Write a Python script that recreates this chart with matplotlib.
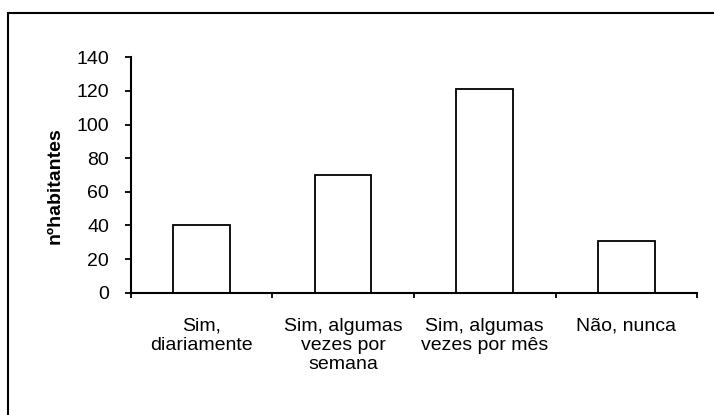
import matplotlib
matplotlib.use('Agg')
import matplotlib.pyplot as plt
import numpy as np
from matplotlib.patches import Rectangle

plt.rcParams['font.family'] = ['Liberation Sans', 'DejaVu Sans']

categorias = ["Sim,\ndiariamente", "Sim, algumas\nvezes por\nsemana",
              "Sim, algumas\nvezes por mês", "Não, nunca"]
habitantes = [40, 70, 121, 31]
y_ticks = [0, 20, 40, 60, 80, 100, 120, 140]

fig = plt.figure(figsize=(7.14, 4.15), dpi=100)
ax = fig.add_axes([0.183, 0.2947, 0.7936, 0.5672])

x = np.arange(len(categorias))
ax.bar(x, habitantes, 0.4, color='white', edgecolor='black', linewidth=1.3)

ax.set_xlim(-0.5, len(categorias) - 0.5)
ax.set_ylim(0, 140)
ax.set_yticks(y_ticks)
ax.set_xticks(x)
ax.set_xticklabels(categorias, fontsize=14, linespacing=1.15)
ax.set_xticks(np.arange(len(categorias) + 1) - 0.5, minor=True)
ax.tick_params(axis='x', which='major', length=0, pad=18)
ax.tick_params(axis='x', which='minor', length=3.5, width=1.3, direction='out')
ax.tick_params(axis='y', length=4.5, width=1.3, direction='out', labelsize=14, pad=11)

for s in ['top', 'right']:
    ax.spines[s].set_visible(False)
for s in ['left', 'bottom']:
    ax.spines[s].set_linewidth(1.5)

ax.set_ylabel('nºhabitantes', fontsize=14, fontweight='bold')
ax.yaxis.set_label_coords(-0.119, 0.453)

# moldura exterior
fig.patches.append(Rectangle((8 / 714, -0.1), 1.2, 1 - 13 / 415 + 0.1,
                             transform=fig.transFigure, fill=False,
                             edgecolor='black', linewidth=1.5))

fig.savefig('out.png', dpi=100)
